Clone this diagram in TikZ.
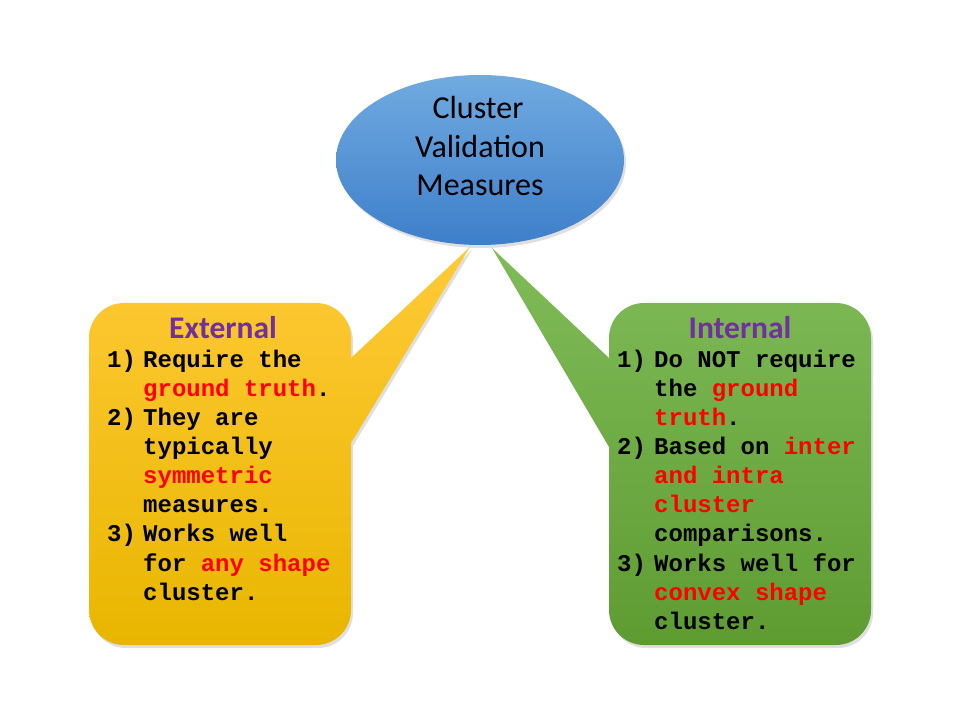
\documentclass[tikz,border=0pt]{standalone}
\usepackage{fontspec}
\setmainfont{Carlito}
\newfontfamily\monof{Liberation Mono}
\usetikzlibrary{shapes.geometric,shadows}
\definecolor{bluetop}{RGB}{112,170,224}
\definecolor{bluebot}{RGB}{62,127,202}
\definecolor{yeltop}{RGB}{255,202,55}
\definecolor{yelbot}{RGB}{232,182,0}
\definecolor{grntop}{RGB}{128,187,88}
\definecolor{grnbot}{RGB}{94,156,50}
\definecolor{ttlpurple}{RGB}{112,48,160}
\definecolor{hired}{RGB}{255,0,0}
\tikzset{
  shd/.style={drop shadow={opacity=0.25,shadow xshift=2pt,shadow yshift=-3pt}},
  bodytxt/.style={anchor=base west,inner sep=0pt,font=\monof\bfseries\fontsize{24}{29}\selectfont},
  ttltxt/.style={anchor=base,inner sep=0pt,text=ttlpurple,font=\bfseries\fontsize{31.5}{36}\selectfont},
  elltxt/.style={anchor=base,inner sep=0pt,font=\fontsize{32}{38}\selectfont},
}
\newcommand{\hl}[1]{\textcolor{hired}{#1}}
\begin{document}
\begin{tikzpicture}[x=1pt,y=1pt]
\useasboundingbox (0,0) rectangle (960,720);
% left callout
\shade[top color=yeltop,bottom color=yelbot,shd]
 (124,417) -- (316,417) arc[start angle=90,end angle=0,radius=35]
 -- (351,362) -- (470,473) -- (351,277)
 -- (351,110) arc[start angle=0,end angle=-90,radius=35]
 -- (124,75) arc[start angle=-90,end angle=-180,radius=35]
 -- (89,382) arc[start angle=180,end angle=90,radius=35] -- cycle;
% right callout
\shade[top color=grntop,bottom color=grnbot,shd]
 (644,417) -- (836,417) arc[start angle=90,end angle=0,radius=35]
 -- (871,110) arc[start angle=0,end angle=-90,radius=35]
 -- (644,75) arc[start angle=-90,end angle=-180,radius=35]
 -- (609,110) -- (609,273) -- (492,472) -- (609,362)
 -- (609,382) arc[start angle=180,end angle=90,radius=35] -- cycle;
% ellipse
\node[ellipse,minimum width=288,minimum height=170,inner sep=0pt,
      top color=bluetop,bottom color=bluebot,shd] (top) at (480,560) {};
\node[elltxt] (t1) at (478,601) {Cluster};
\node[elltxt] (t2) at (480,562.5) {Validation};
\node[elltxt] (t3) at (480,524) {Measures};
% left text
\node[ttltxt] (ext) at (223,381.5) {External};
\node[bodytxt] (ln1) at (107,352) {1)};
\node[bodytxt] (la1) at (143,352) {Require the};
\node[bodytxt] (la2) at (143,323) {\hl{ground truth}.};
\node[bodytxt] (ln2) at (107,294) {2)};
\node[bodytxt] (la3) at (143,294) {They are};
\node[bodytxt] (la4) at (143,265) {typically};
\node[bodytxt] (la5) at (143,236) {\hl{symmetric}};
\node[bodytxt] (la6) at (143,207) {measures.};
\node[bodytxt] (ln3) at (107,178) {3)};
\node[bodytxt] (la7) at (143,178) {Works well};
\node[bodytxt] (la8) at (143,149) {for \hl{any shape}};
\node[bodytxt] (la9) at (143,120) {cluster.};
% right text
\node[ttltxt] (int) at (740,381.5) {Internal};
\node[bodytxt] (rn1) at (617,352) {1)};
\node[bodytxt] (ra1) at (654,352) {Do NOT require};
\node[bodytxt] (ra2) at (654,323) {the \hl{ground}};
\node[bodytxt] (ra3) at (654,294) {\hl{truth}.};
\node[bodytxt] (rn2) at (617,265) {2)};
\node[bodytxt] (ra4) at (654,265) {Based on \hl{inter}};
\node[bodytxt] (ra5) at (654,236) {\hl{and intra}};
\node[bodytxt] (ra6) at (654,207) {\hl{cluster}};
\node[bodytxt] (ra7) at (654,178) {comparisons.};
\node[bodytxt] (rn3) at (617,149) {3)};
\node[bodytxt] (ra8) at (654,149) {Works well for};
\node[bodytxt] (ra9) at (654,120) {\hl{convex shape}};
\node[bodytxt] (ra10) at (654,91) {cluster.};
\end{tikzpicture}
\end{document}
